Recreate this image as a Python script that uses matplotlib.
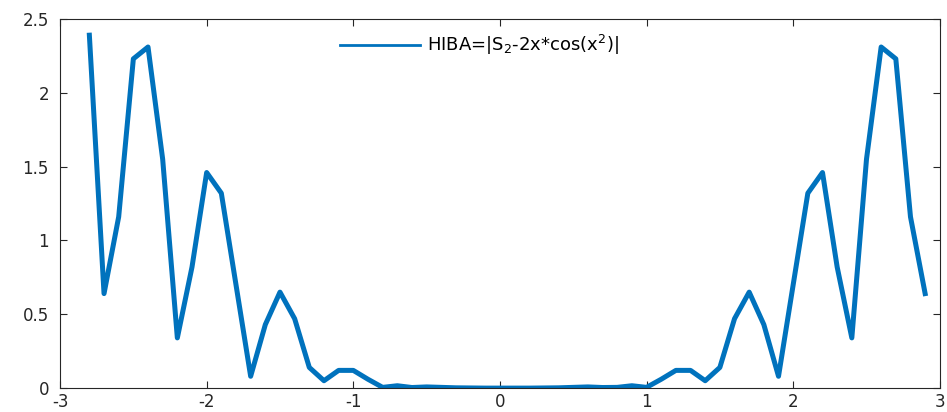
import matplotlib
matplotlib.use('Agg')
import matplotlib.pyplot as plt

# datos
x = [-2.8, -2.7, -2.6, -2.5, -2.4, -2.3, -2.2, -2.1, -2.0, -1.9,
     -1.8, -1.7, -1.6, -1.5, -1.4, -1.3, -1.2, -1.1, -1.0, -0.9,
     -0.8, -0.7, -0.6, -0.5, -0.4, -0.3, -0.2, -0.1, 0.0, 0.1,
     0.2, 0.3, 0.4, 0.5, 0.6, 0.7, 0.8, 0.9, 1.0, 1.1,
     1.2, 1.3, 1.4, 1.5, 1.6, 1.7, 1.8, 1.9, 2.0, 2.1,
     2.2, 2.3, 2.4, 2.5, 2.6, 2.7, 2.8, 2.9]
hiba = [2.39, 0.64, 1.16, 2.23, 2.31, 1.55, 0.34, 0.82, 1.46, 1.32,
        0.70, 0.08, 0.43, 0.65, 0.47, 0.14, 0.05, 0.12, 0.12, 0.06,
        0.005, 0.016, 0.004, 0.008, 0.005, 0.002, 0.001, 0.0, 0.0, 0.0,
        0.0, 0.001, 0.002, 0.005, 0.008, 0.004, 0.005, 0.016, 0.005, 0.06,
        0.12, 0.12, 0.05, 0.14, 0.47, 0.65, 0.43, 0.08, 0.70, 1.32,
        1.46, 0.82, 0.34, 1.55, 2.31, 2.23, 1.16, 0.64]
xticks = [-3, -2, -1, 0, 1, 2, 3]
yticks = [0, 0.5, 1, 1.5, 2, 2.5]
label = r'HIBA=|S$_2$-2x*cos(x$^2$)|'

plt.rcParams['font.family'] = ['DejaVu Sans']
plt.rcParams['mathtext.fontset'] = 'dejavusans'

fig = plt.figure(figsize=(9.47, 4.12), dpi=100)
ax = fig.add_axes([0.0634, 0.058, 0.929, 0.896])
ax.plot(x, hiba, color='#0072BD', linewidth=3.6, label=label)

ax.set_xlim(-3, 3)
ax.set_ylim(0, 2.5)
ax.set_xticks(xticks)
ax.set_yticks(yticks)
ax.set_xticklabels(['-3', '-2', '-1', '0', '1', '2', '3'])
ax.set_yticklabels(['0', '0.5', '1', '1.5', '2', '2.5'])
ax.tick_params(direction='in', top=True, right=True, length=5, width=0.8,
               color='#262626', labelcolor='#262626', labelsize=12)
ax.tick_params(axis='y', pad=8)
for s in ax.spines.values():
    s.set_color('#262626')
    s.set_linewidth(0.8)

# leyenda sin caja, como legend boxoff
leg = ax.legend(loc='center left', bbox_to_anchor=(0.318, 0.93), frameon=False,
                fontsize=13, handlelength=4.43, handletextpad=0.4,
                borderpad=0, borderaxespad=0)
leg.get_lines()[0].set_linewidth(2)

fig.savefig('out.png', dpi=100)
